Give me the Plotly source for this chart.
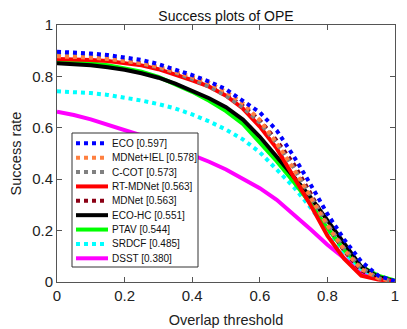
import plotly.graph_objects as go

# overlap thresholds
thresholds = [0, 0.05, 0.1, 0.15, 0.2, 0.25, 0.3, 0.35, 0.4, 0.45, 0.5,
              0.55, 0.6, 0.65, 0.7, 0.75, 0.8, 0.85, 0.9, 0.95, 1.0]

eco = [0.896, 0.893, 0.889, 0.883, 0.875, 0.864, 0.848, 0.828, 0.805, 0.780, 0.750,
       0.705, 0.660, 0.590, 0.490, 0.380, 0.265, 0.165, 0.080, 0.025, 0.003]
mdnet_iel = [0.878, 0.876, 0.873, 0.868, 0.861, 0.852, 0.838, 0.820, 0.798, 0.775, 0.740,
             0.695, 0.630, 0.540, 0.440, 0.330, 0.220, 0.125, 0.050, 0.015, 0.002]
ccot = [0.885, 0.882, 0.877, 0.870, 0.862, 0.850, 0.835, 0.815, 0.790, 0.760, 0.725,
        0.680, 0.620, 0.540, 0.445, 0.335, 0.225, 0.130, 0.055, 0.015, 0.002]
rt_mdnet = [0.868, 0.867, 0.864, 0.860, 0.853, 0.843, 0.828, 0.807, 0.785, 0.760, 0.725,
            0.675, 0.605, 0.520, 0.410, 0.300, 0.180, 0.090, 0.025, 0.010, 0.003]
mdnet = [0.875, 0.873, 0.869, 0.864, 0.856, 0.846, 0.832, 0.812, 0.790, 0.762, 0.728,
         0.685, 0.630, 0.550, 0.460, 0.345, 0.225, 0.120, 0.045, 0.012, 0.002]
eco_hc = [0.851, 0.848, 0.843, 0.836, 0.826, 0.812, 0.795, 0.772, 0.745, 0.715, 0.680,
          0.632, 0.565, 0.490, 0.410, 0.330, 0.240, 0.145, 0.060, 0.020, 0.003]
ptav = [0.860, 0.857, 0.851, 0.843, 0.832, 0.818, 0.798, 0.770, 0.740, 0.705, 0.665,
        0.615, 0.545, 0.470, 0.390, 0.305, 0.210, 0.125, 0.060, 0.025, 0.006]
srdcf = [0.742, 0.740, 0.735, 0.728, 0.718, 0.706, 0.692, 0.675, 0.652, 0.625, 0.593,
         0.555, 0.505, 0.440, 0.370, 0.290, 0.200, 0.115, 0.050, 0.018, 0.003]
dsst = [0.663, 0.650, 0.633, 0.613, 0.593, 0.570, 0.547, 0.522, 0.497, 0.468, 0.438,
        0.403, 0.365, 0.320, 0.265, 0.205, 0.145, 0.090, 0.040, 0.012, 0.002]

names = ['ECO [0.597]', 'MDNet+IEL [0.578]', 'C-COT [0.573]', 'RT-MDNet [0.563]',
         'MDNet [0.563]', 'ECO-HC [0.551]', 'PTAV [0.544]', 'SRDCF [0.485]', 'DSST [0.380]']
series = [eco, mdnet_iel, ccot, rt_mdnet, mdnet, eco_hc, ptav, srdcf, dsst]
colors = ['#0000ff', '#ff8040', '#808080', '#ff0000', '#8b0015',
          '#000000', '#00ff00', '#00ffff', '#ff00ff']
dashes = ['dot', 'dot', 'dot', 'solid', 'dot', 'solid', 'solid', 'dot', 'solid']

# the page body has an 8px margin, so the figure is made 8px smaller
# and every position below is given in window pixels
OFF = 8
W, H = 407 - OFF, 329 - OFF
PL, PR, PT, PB = 57, 395, 25, 282     # plot box in window pixels
pw, ph = PR - PL, PB - PT

fig = go.Figure()

# draw from the lowest-ranked up so ECO sits on top
for i in reversed(range(len(series))):
    fig.add_trace(go.Scatter(
        x=thresholds, y=series[i], mode='lines', name=names[i],
        line=dict(color=colors[i], width=4, dash=dashes[i]),
        showlegend=False
    ))

# hand-made legend (plotly's own rows are too tall for this box)
def px2paper(px, py):
    return (px - PL) / pw, (PB - py) / ph

shapes = []
annotations = []
x0, y0 = px2paper(72, 133)
x1, y1 = px2paper(198, 267)
shapes.append(dict(type='rect', xref='paper', yref='paper', x0=x0, y0=y0, x1=x1, y1=y1,
                   line=dict(color='#333333', width=1), fillcolor='white', layer='above'))
for i, name in enumerate(names):
    py = 143.3 + 14.375 * i
    lx0, ly = px2paper(76, py)
    lx1, _ = px2paper(108, py)
    shapes.append(dict(type='line', xref='paper', yref='paper', x0=lx0, y0=ly, x1=lx1, y1=ly,
                       line=dict(color=colors[i], width=4, dash=dashes[i]), layer='above'))
    tx, _ = px2paper(110, py)
    annotations.append(dict(xref='paper', yref='paper', x=tx, y=ly, text=name,
                            showarrow=False, xanchor='left', yanchor='middle',
                            font=dict(size=10, color='#111111')))

axis_style = dict(
    range=[0, 1], dtick=0.2, showgrid=False, zeroline=False, automargin=False,
    showline=True, linecolor='#555555', linewidth=1, mirror='ticks',
    ticks='inside', ticklen=5, tickcolor='#555555',
    tickfont=dict(size=15, color='#222222'),
)

fig.update_layout(
    width=W, height=H,
    margin=dict(l=PL - OFF, r=407 - PR, t=PT - OFF, b=329 - PB),
    paper_bgcolor='white', plot_bgcolor='white',
    font=dict(family='Liberation Sans, Arial, sans-serif', color='#222222'),
    title=dict(text='Success plots of OPE', x=0.5, xref='paper', y=1 - 8.5 / H,
               yref='container', xanchor='center', yanchor='middle',
               pad=dict(t=0, b=0),
               font=dict(size=14, color='#111111')),
    xaxis=dict(axis_style, title=dict(text='Overlap threshold', font=dict(size=14.5), standoff=11)),
    yaxis=dict(axis_style, title=dict(text='Success rate', font=dict(size=14.5), standoff=8)),
    shapes=shapes,
    annotations=annotations,
    showlegend=False,
)

fig.write_html("out.html")
